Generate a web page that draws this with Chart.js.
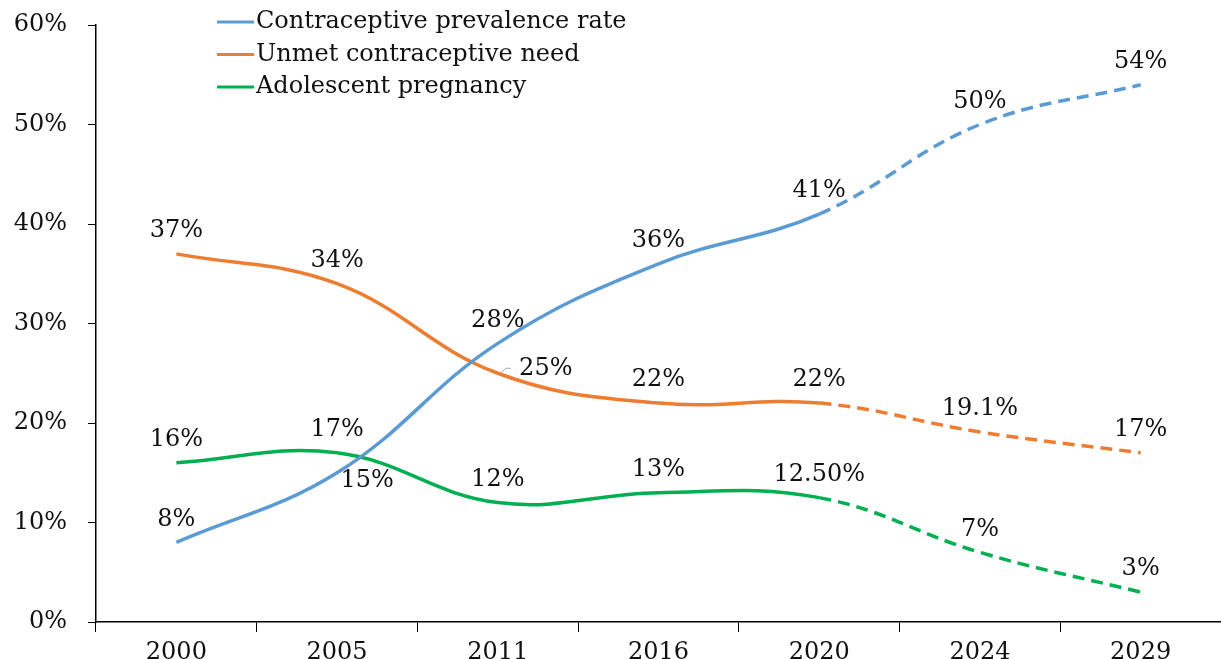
<!DOCTYPE html>
<html>
<head>
<meta charset="utf-8">
<script src="https://cdn.jsdelivr.net/npm/chart.js@4"></script>
<style>
  html, body { margin: 0; padding: 0; background: #fff; }
  #wrap { width: 1221px; height: 659px; }
</style>
</head>
<body>
<div id="wrap"><canvas id="trendChart"></canvas></div>
<script>
var years = ["2000", "2005", "2011", "2016", "2020", "2024", "2029"];
var prevalence = [8, 15, 28, 36, 41, 50, 54];
var unmetNeed = [37, 34, 25, 22, 22, 19.1, 17];
var adolescent = [16, 17, 12, 13, 12.5, 7, 3];
var prevalenceLabels = ["8%", "15%", "28%", "36%", "41%", "50%", "54%"];
var unmetLabels = ["37%", "34%", "25%", "22%", "22%", "19.1%", "17%"];
var adolescentLabels = ["16%", "17%", "12%", "13%", "12.50%", "7%", "3%"];
var lastActual = 4; // 2020 is the last measured year, projections after

var fontFamily = "'DejaVu Serif', serif";
var fontSize = 24;
var textColor = "#111";

// label nudges that differ from the default "just above the point"
var labelShift = {
  "0-1": [30, 8],
  "1-2": [48, -4]
};

var dashAfter = function(ctx) {
  return ctx.p0DataIndex >= lastActual ? [12, 7] : undefined;
};

var valueLabels = {
  id: "valueLabels",
  afterDatasetsDraw: function(chart) {
    var c = chart.ctx;
    var texts = [prevalenceLabels, unmetLabels, adolescentLabels];
    c.save();
    c.font = fontSize + "px " + fontFamily;
    c.fillStyle = textColor;
    c.textAlign = "center";
    c.textBaseline = "middle";
    chart.data.datasets.forEach(function(ds, d) {
      var meta = chart.getDatasetMeta(d);
      meta.data.forEach(function(pt, i) {
        var s = labelShift[d + "-" + i] || [0, -23];
        c.fillText(texts[d][i], pt.x + s[0], pt.y + s[1]);
        if (d == 1 && i == 2) {
          // little leader line for the 25% label
          c.strokeStyle = "#a6a6a6";
          c.lineWidth = 1;
          c.beginPath();
          c.moveTo(pt.x + 4, pt.y - 1);
          c.lineTo(pt.x + 8, pt.y - 5);
          c.lineTo(pt.x + 13, pt.y - 5);
          c.stroke();
        }
      });
    });
    c.restore();
  }
};

var sideLegend = {
  id: "sideLegend",
  afterDraw: function(chart) {
    var c = chart.ctx;
    c.save();
    c.font = fontSize + "px " + fontFamily;
    c.fillStyle = textColor;
    c.textBaseline = "middle";
    chart.data.datasets.forEach(function(ds, d) {
      var y = 22 + d * 32.5;
      c.strokeStyle = ds.borderColor;
      c.lineWidth = 3;
      c.beginPath();
      c.moveTo(217, y);
      c.lineTo(254, y);
      c.stroke();
      c.fillText(ds.label, 256, y);
    });
    c.restore();
  }
};

var ctx = document.getElementById("trendChart").getContext("2d");
var myChart = new Chart(ctx, {
  type: "line",
  data: {
    labels: years,
    datasets: [{
      label: "Contraceptive prevalence rate",
      data: prevalence,
      borderColor: "#5b9bd5",
      backgroundColor: "#5b9bd5",
      borderWidth: 3.5,
      pointRadius: 0,
      tension: 0.4,
      segment: { borderDash: dashAfter }
    }, {
      label: "Unmet contraceptive need",
      data: unmetNeed,
      borderColor: "#ed7d31",
      backgroundColor: "#ed7d31",
      borderWidth: 3.5,
      pointRadius: 0,
      tension: 0.4,
      segment: { borderDash: dashAfter }
    }, {
      label: "Adolescent pregnancy",
      data: adolescent,
      borderColor: "#00b050",
      backgroundColor: "#00b050",
      borderWidth: 3.5,
      pointRadius: 0,
      tension: 0.4,
      segment: { borderDash: dashAfter }
    }]
  },
  options: {
    responsive: true,
    maintainAspectRatio: false,
    animation: false,
    layout: { padding: { top: 25, right: 0, left: 0, bottom: 0 } },
    plugins: {
      legend: { display: false },
      tooltip: { enabled: false }
    },
    scales: {
      x: {
        offset: true,
        afterFit: function(axis) { axis.height = 37; },
        grid: {
          offset: true,
          drawOnChartArea: false,
          color: "#000",
          tickLength: 10,
          lineWidth: 1
        },
        border: { color: "#000", width: 1.5 },
        ticks: {
          color: textColor,
          font: { family: fontFamily, size: fontSize },
          padding: 6,
          maxRotation: 0
        }
      },
      y: {
        min: 0,
        max: 60,
        afterFit: function(axis) {
          axis.width = 96;
          axis.paddingTop = 0;
          axis.paddingBottom = 0;
        },
        grid: {
          drawOnChartArea: false,
          color: "#000",
          tickLength: 8
        },
        border: { color: "#000", width: 1.5 },
        ticks: {
          stepSize: 10,
          color: textColor,
          font: { family: fontFamily, size: fontSize },
          padding: 21,
          callback: function(v) { return v + "%"; }
        }
      }
    }
  },
  plugins: [valueLabels, sideLegend]
});
</script>
</body>
</html>
